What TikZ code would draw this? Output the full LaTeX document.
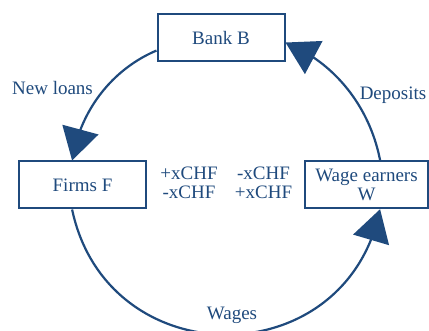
\documentclass[tikz,border=0pt]{standalone}
\usepackage{fontspec}
\setmainfont{Liberation Serif}
\usetikzlibrary{arrows.meta,bending}
\definecolor{navy}{HTML}{1F4A7D}
\begin{document}
\begin{tikzpicture}[x=1pt,y=-1pt,
  every node/.style={text=navy,font=\fontsize{19}{19}\selectfont},
  sector/.style={draw=navy,line width=2pt,fill=white,inner sep=0pt,align=center},
  flow/.style={draw=navy,line width=2.2pt,-{Triangle[length=32pt,width=37pt,flex]}}]
  \fill[white] (0,0) rectangle (429,331);
  \useasboundingbox (0,0) rectangle (429,331);
  \clip (0,0) rectangle (429,331);

  % the three sectors
  \node[sector,minimum width=127pt,minimum height=47pt] (bank)  at (221,38)    {Bank B};
  \node[sector,minimum width=127pt,minimum height=47pt] (firms) at (82.5,185)  {Firms F};
  \node[sector,minimum width=123pt,minimum height=47pt] (wage)  at (366.5,184.7) {Wage earners\\W};

  % money flows round the circuit
  \draw[flow]  (bank.191) to[out=203,in=81,looseness=0.91] (firms.113);
  \draw[flow]  (firms.247) to[out=282,in=258.6,looseness=1.42] (wage.299);
  \draw[flow]  (wage.61) to[out=101,in=338,looseness=0.91] (bank.356);

  % flow labels
  \node[anchor=base] (lloans) at (52.5,95)  {New loans};
  \node[anchor=base] (ldep)   at (393,100)  {Deposits};
  \node[anchor=base] (lwage)  at (232,320)  {Wages};

  % balance changes
  \node[align=center] (chfF) at (189,183) {+xCHF\\-xCHF};
  \node[align=center] (chfW) at (263.5,183) {-xCHF\\+xCHF};
\end{tikzpicture}
\end{document}
